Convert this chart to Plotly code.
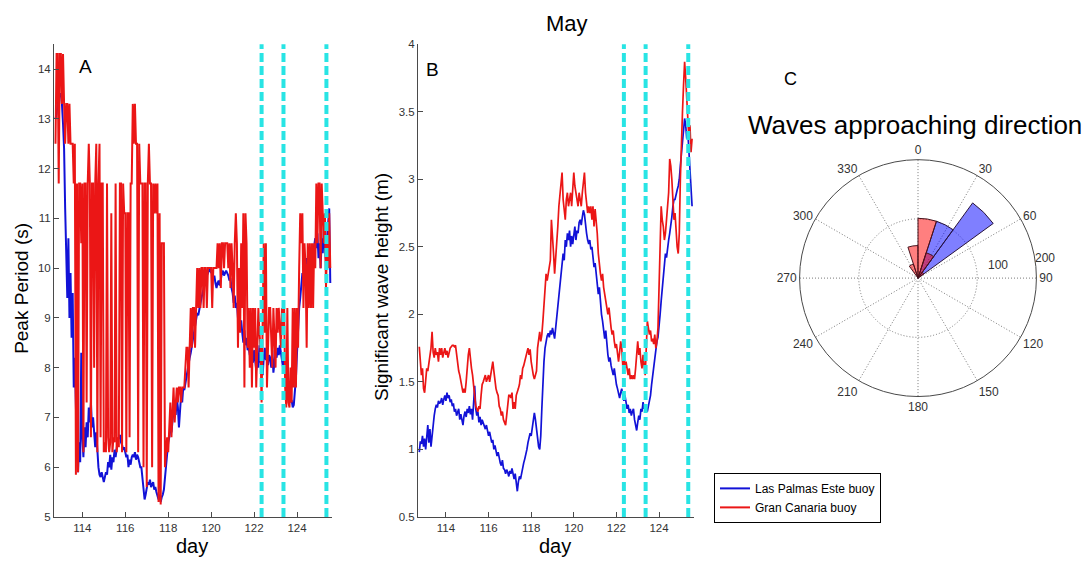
import numpy as np
import plotly.graph_objects as go

FONT = "Liberation Sans, Arial, sans-serif"
W, H = 1088, 566

# ---- time series: one sample every 0.05 day starting at day 112.75 ----
t0 = 112.75
dt = 0.05

# Peak period (s), Las Palmas Este buoy
lp_period = [
    13.0, 13.1, 13.3, 13.4, 13.5, 13.5, 13.3, 12.9, 12.4, 11.2, 10.3, 9.4, 10.6, 9.0, 9.9, 8.6, 9.5, 7.6, 8.2, 7.1,
    6.3, 5.9, 6.5, 6.1, 8.3, 6.6, 6.2, 6.8, 6.4, 6.9, 6.6, 7.2, 6.9, 7.3, 6.8, 7.0, 6.6, 6.4, 6.7, 6.2,
    6.0, 5.85, 5.8, 5.9, 5.75, 5.7, 5.8, 5.9, 5.85, 6.1, 6.0, 6.25, 5.95, 6.2, 6.1, 6.35, 6.2, 6.4, 6.55, 6.6,
    6.65, 6.5, 6.45, 6.35, 6.4, 6.3, 6.2, 6.25, 6.0, 6.15, 6.05, 6.2, 6.25, 6.2, 6.3, 6.15, 6.25, 6.2, 6.1, 6.0,
    6.0, 5.8, 5.6, 5.35, 5.45, 5.6, 5.7, 5.65, 5.75, 5.6, 5.65, 5.7, 5.55, 5.6, 5.5, 5.4, 5.35, 5.45, 5.3, 5.4,
    5.45, 5.55, 5.8, 6.05, 6.3, 6.5, 6.6, 6.75, 6.7, 7.0, 7.15, 7.3, 7.05, 7.4, 7.2, 6.8, 7.1, 7.45, 7.3, 7.6,
    7.55, 7.7, 7.8, 7.95, 8.05, 8.2, 8.3, 8.45, 8.6, 8.7, 8.85, 8.95, 9.1, 9.05, 9.2, 9.3, 9.4, 9.5, 9.6, 9.7,
    9.75, 9.85, 9.9, 9.95, 10.0, 9.9, 9.95, 9.8, 9.85, 9.7, 9.6, 9.7, 9.75, 9.65, 9.8, 9.9, 9.95, 9.85, 9.9, 9.95,
    9.9, 9.85, 9.75, 9.8, 9.6, 9.5, 9.3, 9.45, 9.2, 9.3, 9.0, 9.1, 8.85, 8.95, 8.7, 8.5, 8.75, 8.45, 8.6, 8.35,
    8.4, 8.25, 8.5, 8.3, 8.1, 8.35, 8.2, 7.95, 8.3, 8.0, 8.45, 8.1, 8.3, 7.85, 8.2, 8.4, 8.15, 8.3, 8.05, 8.25,
    8.2, 8.0, 8.35, 7.9, 8.1, 8.3, 8.2, 8.4, 8.25, 8.45, 8.3, 8.15, 8.0, 8.2, 7.9, 7.8, 7.6, 7.7, 7.45, 7.3,
    7.35, 7.2, 7.25, 7.5, 7.8, 8.3, 8.8, 9.2, 9.4, 9.7, 9.9, 9.8, 10.0, 10.1, 10.2, 10.05, 10.3, 10.2, 10.35, 10.4,
    10.3, 10.5, 10.6, 10.4, 10.7, 10.2, 10.5, 10.0, 10.6, 10.3, 10.8, 10.4, 10.1, 10.6, 10.9, 11.2, 9.7,
]

# Peak period (s), Gran Canaria buoy
gc_period = [
    12.5, 14.3, 14.3, 11.7, 14.3, 14.3, 13.3, 14.3, 13.3, 12.5, 13.3, 13.3, 12.5, 13.3, 12.5, 12.5, 12.5, 11.7, 12.5, 5.85,
    11.7, 5.9, 11.7, 11.7, 10.5, 11.7, 6.3, 11.7, 11.7, 7.3, 11.7, 12.5, 11.7, 6.6, 11.7, 11.7, 8.0, 11.7, 12.5, 6.3,
    11.7, 12.5, 6.6, 11.7, 11.7, 6.3, 6.5, 6.3, 11.7, 6.6, 6.3, 6.5, 11.1, 6.3, 6.6, 6.5, 11.7, 6.3, 6.6, 6.4,
    11.7, 11.7, 6.3, 11.7, 11.1, 11.1, 6.3, 11.1, 11.1, 6.6, 11.7, 11.7, 13.3, 12.5, 13.3, 12.5, 12.5, 6.3, 12.5, 11.7,
    11.7, 11.7, 6.0, 11.7, 11.7, 5.6, 11.7, 12.5, 11.7, 11.7, 6.0, 11.7, 11.1, 11.7, 11.1, 11.7, 5.3, 11.1, 5.25, 10.5,
    10.5, 10.5, 6.0, 6.3, 6.6, 6.3, 6.9, 7.3, 6.6, 7.3, 7.6, 6.9, 7.3, 7.6, 7.3, 7.6, 7.6, 7.3, 7.6, 7.6,
    7.6, 8.0, 8.4, 8.4, 7.6, 8.4, 9.2, 8.4, 9.2, 9.2, 8.4, 9.2, 10.0, 9.2, 10.0, 9.2, 10.0, 10.0, 9.2, 10.0,
    10.0, 9.2, 10.0, 10.0, 10.0, 10.0, 9.2, 10.0, 10.0, 10.0, 10.0, 10.5, 10.0, 10.5, 9.6, 10.5, 10.5, 10.0, 10.5, 10.5,
    10.5, 10.0, 10.5, 9.6, 10.5, 10.0, 9.2, 10.5, 11.1, 10.5, 8.4, 10.0, 8.7, 10.5, 9.2, 11.1, 7.6, 11.1, 10.5, 8.4,
    9.2, 8.0, 9.2, 7.6, 9.2, 8.4, 9.2, 7.6, 8.7, 9.2, 8.7, 8.4, 7.3, 8.7, 10.5, 8.7, 10.5, 7.6, 8.7, 9.2,
    9.2, 8.4, 8.0, 9.2, 8.7, 8.0, 9.2, 8.7, 9.2, 8.7, 8.4, 9.2, 8.7, 9.2, 7.6, 7.2, 9.2, 7.3, 7.2, 8.0,
    7.3, 9.2, 7.6, 9.2, 7.6, 9.2, 8.4, 10.0, 11.1, 10.5, 11.1, 9.2, 10.5, 10.0, 8.4, 10.5, 9.2, 10.5, 9.2, 10.5,
    9.2, 10.5, 10.0, 11.7, 10.5, 11.7, 11.7, 10.0, 11.7, 11.1, 10.5, 11.1, 9.6, 10.5, 10.0, 11.1, 10.0,
]

# Significant wave height (m), Las Palmas Este buoy
lp_hs = [
    0.98, 1.06, 1.04, 1.1, 1.02, 1.08, 1.0, 1.12, 1.18, 1.05, 1.15, 1.02, 1.12, 1.2, 1.25, 1.3, 1.33, 1.31, 1.36, 1.34,
    1.35, 1.38, 1.33, 1.37, 1.4, 1.36, 1.42, 1.38, 1.4, 1.35, 1.37, 1.32, 1.34, 1.28, 1.3, 1.25, 1.28, 1.3, 1.22, 1.26,
    1.22, 1.18, 1.25, 1.28, 1.24, 1.3, 1.27, 1.32, 1.26, 1.3, 1.22, 1.35, 1.47, 1.3, 1.25, 1.28, 1.2, 1.24, 1.18, 1.22,
    1.2, 1.17, 1.15, 1.18, 1.12, 1.1, 1.13, 1.08, 1.05, 1.07, 1.0, 1.03, 0.97, 0.95, 0.98, 0.93, 0.9, 0.88, 0.92, 0.86,
    0.85, 0.82, 0.85, 0.83, 0.8, 0.84, 0.82, 0.86, 0.8, 0.78, 0.82, 0.74, 0.69, 0.76, 0.8, 0.78, 0.83, 0.86, 0.9, 0.93,
    0.96, 1.0, 1.05, 1.08, 1.12, 1.1, 1.17, 1.2, 1.27, 1.22, 1.15, 1.05, 1.02, 1.0, 1.1, 1.3, 1.5, 1.65, 1.75, 1.8,
    1.84, 1.86, 1.83, 1.88, 1.85, 1.9, 1.86, 1.82, 1.9, 1.98, 2.05, 2.12, 2.2, 2.28, 2.35, 2.45, 2.4, 2.55, 2.5, 2.6,
    2.55, 2.62, 2.5, 2.58, 2.52, 2.6, 2.65, 2.55, 2.62, 2.6, 2.68, 2.7, 2.66, 2.72, 2.77, 2.74, 2.65, 2.6, 2.55, 2.52,
    2.55, 2.48, 2.5, 2.42, 2.35, 2.38, 2.3, 2.22, 2.15, 2.2, 2.05, 2.0, 1.95, 1.9, 1.82, 1.88, 1.75, 1.7, 1.65, 1.68,
    1.62, 1.58, 1.55, 1.6, 1.52, 1.48, 1.45, 1.4, 1.38, 1.42, 1.45, 1.4, 1.36, 1.4, 1.35, 1.3, 1.33, 1.27, 1.3, 1.25,
    1.28, 1.3, 1.22, 1.18, 1.14, 1.2, 1.25, 1.22, 1.3, 1.28, 1.35, 1.3, 1.33, 1.3, 1.28, 1.32, 1.35, 1.4, 1.48, 1.55,
    1.62, 1.7, 1.75, 1.8, 1.83, 1.9, 2.0, 2.1, 2.2, 2.3, 2.38, 2.45, 2.42, 2.5, 2.55, 2.6, 2.65, 2.72, 2.8, 2.85,
    2.85, 2.9, 2.92, 2.95, 3.0, 3.1, 3.2, 3.3, 3.38, 3.45, 3.4, 3.3, 3.35, 3.2, 3.0, 2.9, 2.8,
]

# Significant wave height (m), Gran Canaria buoy
gc_hs = [
    1.76, 1.62, 1.55, 1.6, 1.45, 1.42, 1.52, 1.6, 1.58, 1.65, 1.72, 1.75, 1.87, 1.72, 1.68, 1.75, 1.7, 1.72, 1.65, 1.75,
    1.7, 1.75, 1.68, 1.72, 1.75, 1.7, 1.73, 1.68, 1.72, 1.75, 1.76, 1.77, 1.77, 1.76, 1.77, 1.7, 1.62, 1.58, 1.55, 1.5,
    1.47, 1.42, 1.45, 1.42, 1.5, 1.62, 1.7, 1.75, 1.65, 1.6, 1.55, 1.45, 1.38, 1.32, 1.3, 1.28, 1.32, 1.3, 1.4, 1.48,
    1.5, 1.52, 1.55, 1.5, 1.53, 1.55, 1.5, 1.55, 1.6, 1.65, 1.58, 1.5, 1.45, 1.42, 1.4, 1.32, 1.3, 1.25, 1.28, 1.22,
    1.2, 1.18, 1.25, 1.35, 1.4, 1.4, 1.38, 1.42, 1.3, 1.35, 1.3, 1.4, 1.42, 1.45, 1.48, 1.55, 1.52, 1.6, 1.62, 1.65,
    1.68, 1.72, 1.75, 1.7, 1.74, 1.65, 1.58, 1.55, 1.52, 1.55, 1.58, 1.75, 1.82, 1.87, 1.8, 1.85, 1.95, 2.1, 2.2, 2.3,
    2.25, 2.3, 2.35, 2.4, 2.7, 2.6, 2.45, 2.3, 2.4, 2.55, 2.65, 2.8, 2.9, 2.95, 3.05, 2.85, 2.75, 2.7, 2.85, 2.9,
    2.8, 2.85, 2.9, 2.8, 2.95, 3.05, 2.95, 2.9, 2.85, 2.8, 2.9, 2.85, 2.8, 2.9, 3.0, 3.05, 2.9, 2.8, 2.75, 2.8,
    2.75, 2.8, 2.7, 2.8, 2.65, 2.78, 2.7, 2.6, 2.45, 2.35, 2.3, 2.25, 2.3, 2.2, 2.15, 2.1, 2.05, 2.0, 2.05, 1.95,
    1.9, 1.85, 1.88, 1.8, 1.75, 1.78, 1.7, 1.65, 1.72, 1.8, 1.75, 1.62, 1.7, 1.6, 1.65, 1.58, 1.55, 1.6, 1.52, 1.55,
    1.52, 1.55, 1.52, 1.6, 1.75, 1.8, 1.7, 1.75, 1.65, 1.6, 1.7, 1.62, 1.55, 1.75, 1.95, 1.9, 1.85, 1.88, 1.8, 1.82,
    1.78, 1.85, 1.75, 1.8, 1.9, 2.2, 2.6, 2.8, 2.7, 2.65, 2.55, 2.6, 2.7, 2.8, 2.9, 3.15, 3.1, 3.0, 2.85, 2.7,
    2.75, 2.6, 2.5, 2.45, 2.6, 3.0, 3.35, 3.5, 3.7, 3.87, 3.75, 3.6, 3.4, 3.3, 3.4, 3.2, 3.3,
]

# days marked with dashed vertical lines
event_days = [122.35, 123.37, 125.37]

# direction rose: 18-degree sectors (centre angle, counts per buoy)
rose_theta = [333, 351, 9, 27, 45]
lp_rose = [0, 0, 0, 101, 157]
gc_rose = [25, 55, 101, 45, 12]
rose_rings = [100, 200]

day_ticks = [114, 116, 118, 120, 122, 124]
period_ticks = [5, 6, 7, 8, 9, 10, 11, 12, 13, 14]
hs_ticks = [0.5, 1, 1.5, 2, 2.5, 3, 3.5, 4]
dir_ticks = list(range(0, 360, 30))

BLUE = "rgb(18,18,215)"
RED = "rgb(235,22,22)"
CYAN = "#28e4e4"
AXIS = "#4a4a4a"
TICKTXT = "#333333"
GRID = "#7a7a7a"


def days_for(series):
    return t0 + dt * np.arange(len(series))


def px_x(p):
    return p / W


def px_y(p):
    return 1 - p / H


fig = go.Figure()

# panel A
fig.add_trace(go.Scatter(x=days_for(lp_period), y=lp_period, mode="lines",
                         line=dict(color=BLUE, width=2), name="Las Palmas Este buoy",
                         xaxis="x", yaxis="y"))
fig.add_trace(go.Scatter(x=days_for(gc_period), y=gc_period, mode="lines",
                         line=dict(color=RED, width=2), name="Gran Canaria buoy",
                         xaxis="x", yaxis="y"))
# panel B
fig.add_trace(go.Scatter(x=days_for(lp_hs), y=lp_hs, mode="lines",
                         line=dict(color=BLUE, width=1.7), showlegend=False,
                         xaxis="x2", yaxis="y2"))
fig.add_trace(go.Scatter(x=days_for(gc_hs), y=gc_hs, mode="lines",
                         line=dict(color=RED, width=1.7), showlegend=False,
                         xaxis="x2", yaxis="y2"))
# panel C
fig.add_trace(go.Barpolar(r=lp_rose, theta=rose_theta, width=18,
                          marker=dict(color="rgba(0,0,255,0.5)",
                                      line=dict(color="rgb(40,20,60)", width=1)),
                          showlegend=False, subplot="polar"))
fig.add_trace(go.Barpolar(r=gc_rose, theta=rose_theta, width=18,
                          marker=dict(color="rgba(255,0,0,0.5)",
                                      line=dict(color="rgb(70,20,30)", width=1)),
                          showlegend=False, subplot="polar"))

# dashed event markers in both time panels
for xa, ya in (("x", "y"), ("x2", "y2")):
    for d in event_days:
        fig.add_shape(type="line", xref=xa, yref=f"{ya} domain", x0=d, x1=d, y0=0, y1=1,
                      line=dict(color=CYAN, width=4, dash="9px,4px"), layer="above")

axis_common = dict(showline=True, linecolor=AXIS, linewidth=1, ticks="inside", ticklen=5,
                   tickcolor=AXIS, showgrid=False, zeroline=False, mirror=False,
                   tickfont=dict(family=FONT, size=11.5, color=TICKTXT))

y_dom = [px_y(522), px_y(39)]

fig.update_layout(
    width=W, height=H,
    margin=dict(l=0, r=0, t=0, b=0),
    paper_bgcolor="white", plot_bgcolor="white",
    font=dict(family=FONT, color="black"),
    xaxis=dict(domain=[px_x(54), px_x(332)], range=[112.68, 125.63], tickvals=day_ticks,
               anchor="y", **axis_common),
    yaxis=dict(domain=y_dom, range=[5, 14.5], tickvals=period_ticks, anchor="x", **axis_common),
    xaxis2=dict(domain=[px_x(418), px_x(694)], range=[112.69, 125.64], tickvals=day_ticks,
                anchor="y2", **axis_common),
    yaxis2=dict(domain=y_dom, range=[0.5, 4], tickvals=hs_ticks,
                ticktext=[f"{v:g}" for v in hs_ticks], anchor="x2", **axis_common),
    polar=dict(
        domain=dict(x=[px_x(918 - 121), px_x(918 + 121)], y=[px_y(278 + 121), px_y(278 - 121)]),
        bgcolor="white",
        barmode="overlay",
        angularaxis=dict(rotation=90, direction="clockwise", tickvals=dir_ticks,
                         ticktext=[str(v) for v in dir_ticks], ticks="",
                         showline=True, linecolor=AXIS, linewidth=1,
                         gridcolor=GRID, griddash="1px,2px", gridwidth=1,
                         tickfont=dict(family=FONT, size=12, color=TICKTXT)),
        radialaxis=dict(range=[0, 200], tickvals=rose_rings, showticklabels=False,
                        showline=False, ticks="", angle=10,
                        gridcolor=GRID, griddash="1px,2px", gridwidth=1),
    ),
    legend=dict(x=px_x(714), y=px_y(477), xanchor="left", yanchor="top",
                bgcolor="white", bordercolor="black", borderwidth=1,
                font=dict(family=FONT, size=12, color="black"),
                tracegroupgap=0, itemwidth=30),
)

annotations = [
    dict(text="May", x=px_x(567), y=px_y(18), size=22),
    dict(text="A", x=px_x(85), y=px_y(62), size=19),
    dict(text="B", x=px_x(432), y=px_y(65), size=19),
    dict(text="C", x=px_x(790), y=px_y(75), size=18),
    dict(text="Waves approaching direction", x=px_x(915), y=px_y(122), size=26),
    dict(text="day", x=px_x(192), y=px_y(552), size=20),
    dict(text="day", x=px_x(555), y=px_y(552), size=20),
    dict(text="Peak Period (s)", x=px_x(22), y=px_y(289), size=19, angle=-90),
    dict(text="Significant wave height (m)", x=px_x(382), y=px_y(287), size=19, angle=-90),
]
# ring labels of the direction rose
ring_label_pos = [(998, 265), (1045, 257)]
for ring, (lx, ly) in zip(rose_rings, ring_label_pos):
    annotations.append(dict(text=str(ring), x=px_x(lx), y=px_y(ly), size=12, color=TICKTXT))

for a in annotations:
    fig.add_annotation(text=a["text"], xref="paper", yref="paper", x=a["x"], y=a["y"],
                       xanchor="center", yanchor="middle", showarrow=False,
                       textangle=a.get("angle", 0),
                       font=dict(family=FONT, size=a["size"], color=a.get("color", "black")))

fig.write_html("out.html")
